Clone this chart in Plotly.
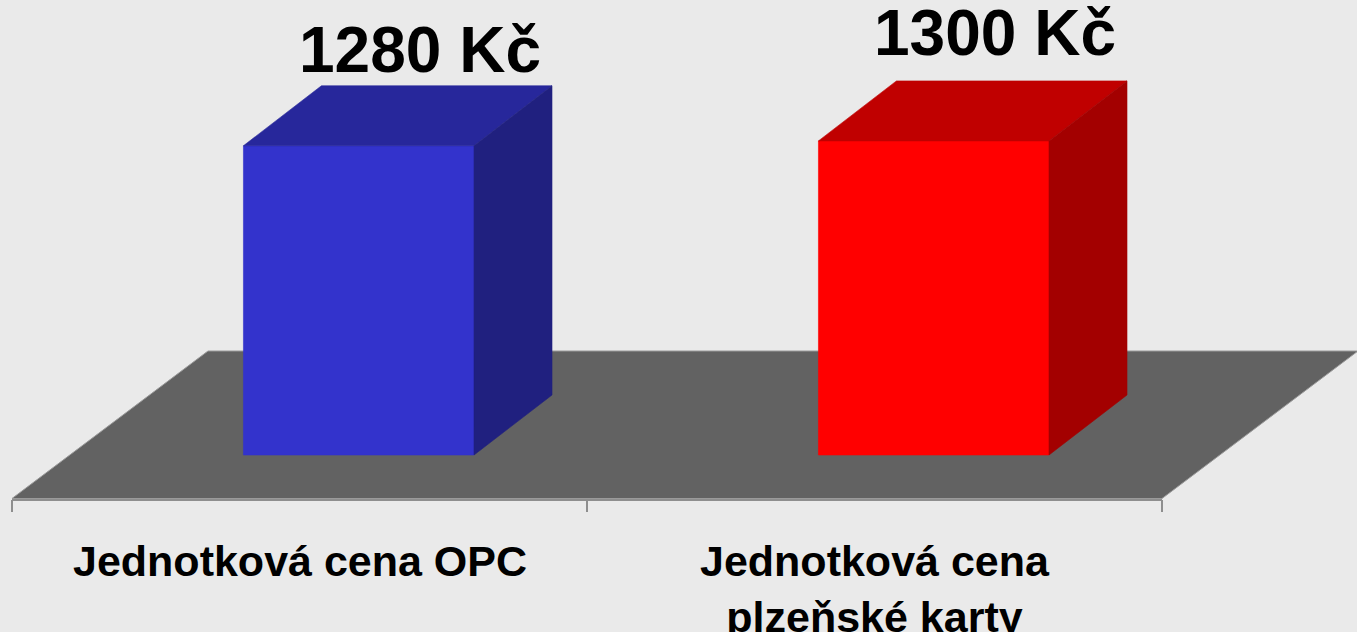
import plotly.graph_objects as go

# ---- data ----
categories = ["Jednotková cena OPC", "Jednotková cena<br>plzeňské karty"]
values = [1280, 1300]
value_labels = ["1280 Kč", "1300 Kč"]

# ---- style ----
W, H = 1357, 632
bg_color = "#EAEAEA"
floor_color = "#626262"
floor_edge = "#9A9A9A"
axis_color = "#8E8E8E"
front_colors = ["#3333CC", "#FF0000"]
top_colors = ["#27279B", "#C00000"]
side_colors = ["#20207F", "#A30000"]
font_family = "Liberation Sans, Arial, sans-serif"
value_font_size = 64
cat_font_size = 43
label_lift_px = [36, 48]      # vertical gap from back-top edge to label centre
label_nudge_px = 22           # horizontal nudge of value labels
cat_label_gap_px = 35         # gap from axis line to category label box top

# ---- projection geometry (pixel -> axis units) ----
PX_PER_CAT = 575.0
AXIS_LEFT_PX = 12.0
PX_PER_VAL = 0.2416
ZERO_PX = 455.0
x_range = [-0.5 - AXIS_LEFT_PX / PX_PER_CAT, -0.5 + (W - AXIS_LEFT_PX) / PX_PER_CAT]
y_range = [-(H - ZERO_PX) / PX_PER_VAL, ZERO_PX / PX_PER_VAL]

def dx(px):
    return px / PX_PER_CAT

def dy(px):
    return px / PX_PER_VAL

bar_width = 0.401
bar_shift = 0.103
depth_x = dx(78)
depth_y = dy(60)
floor_front = -dy(43.5)
floor_back = floor_front + dy(147.5)
floor_dx = dx(196)
axis_y = -dy(45)
tick_len = dy(12)

n = len(categories)
fig = go.Figure()

def poly(xs, ys, color, line_color=None, lw=0.6):
    fig.add_trace(go.Scatter(
        x=list(xs) + [xs[0]], y=list(ys) + [ys[0]],
        mode="lines", fill="toself", fillcolor=color,
        line=dict(color=line_color or color, width=lw),
        hoverinfo="skip", showlegend=False))

# floor
fx0, fx1 = -0.5, n - 0.5
poly([fx0, fx1, fx1 + floor_dx, fx0 + floor_dx],
     [floor_front, floor_front, floor_back, floor_back],
     floor_color, floor_edge, 1)

# bars
for i, v in enumerate(values):
    x0 = i + bar_shift - bar_width / 2
    x1 = x0 + bar_width
    # front
    poly([x0, x1, x1, x0], [0, 0, v, v], front_colors[i])
    # top
    poly([x0, x1, x1 + depth_x, x0 + depth_x], [v, v, v + depth_y, v + depth_y], top_colors[i])
    # side
    poly([x1, x1 + depth_x, x1 + depth_x, x1], [0, depth_y, v + depth_y, v], side_colors[i])

# axis line and ticks at category boundaries
fig.add_trace(go.Scatter(x=[-0.5, n - 0.5], y=[axis_y, axis_y], mode="lines",
                         line=dict(color=axis_color, width=2),
                         hoverinfo="skip", showlegend=False))
for b in range(n + 1):
    fig.add_trace(go.Scatter(x=[b - 0.5, b - 0.5], y=[axis_y, axis_y - tick_len], mode="lines",
                             line=dict(color=axis_color, width=2),
                             hoverinfo="skip", showlegend=False))

annotations = []
for i, v in enumerate(values):
    annotations.append(dict(
        x=i + bar_shift + depth_x / 2 + dx(label_nudge_px),
        y=v + depth_y + dy(label_lift_px[i]),
        text="<b>%s</b>" % value_labels[i], showarrow=False,
        xanchor="center", yanchor="middle",
        font=dict(family=font_family, size=value_font_size, color="black")))
for i, c in enumerate(categories):
    annotations.append(dict(
        x=i, y=axis_y - dy(cat_label_gap_px),
        text="<b>%s</b>" % c, showarrow=False,
        xanchor="center", yanchor="top", align="center",
        font=dict(family=font_family, size=cat_font_size, color="black")))

fig.update_layout(
    width=W, height=H, autosize=False,
    margin=dict(l=0, r=0, t=0, b=0, pad=0),
    paper_bgcolor=bg_color, plot_bgcolor=bg_color,
    showlegend=False, hovermode=False,
    xaxis=dict(range=x_range, visible=False, fixedrange=True),
    yaxis=dict(range=y_range, visible=False, fixedrange=True),
    annotations=annotations,
)

fig.write_html("out.html", config={"displayModeBar": False},
               post_script="document.body.style.margin='0';document.body.style.overflow='hidden';"
                           "document.body.style.background='%s';" % bg_color)
